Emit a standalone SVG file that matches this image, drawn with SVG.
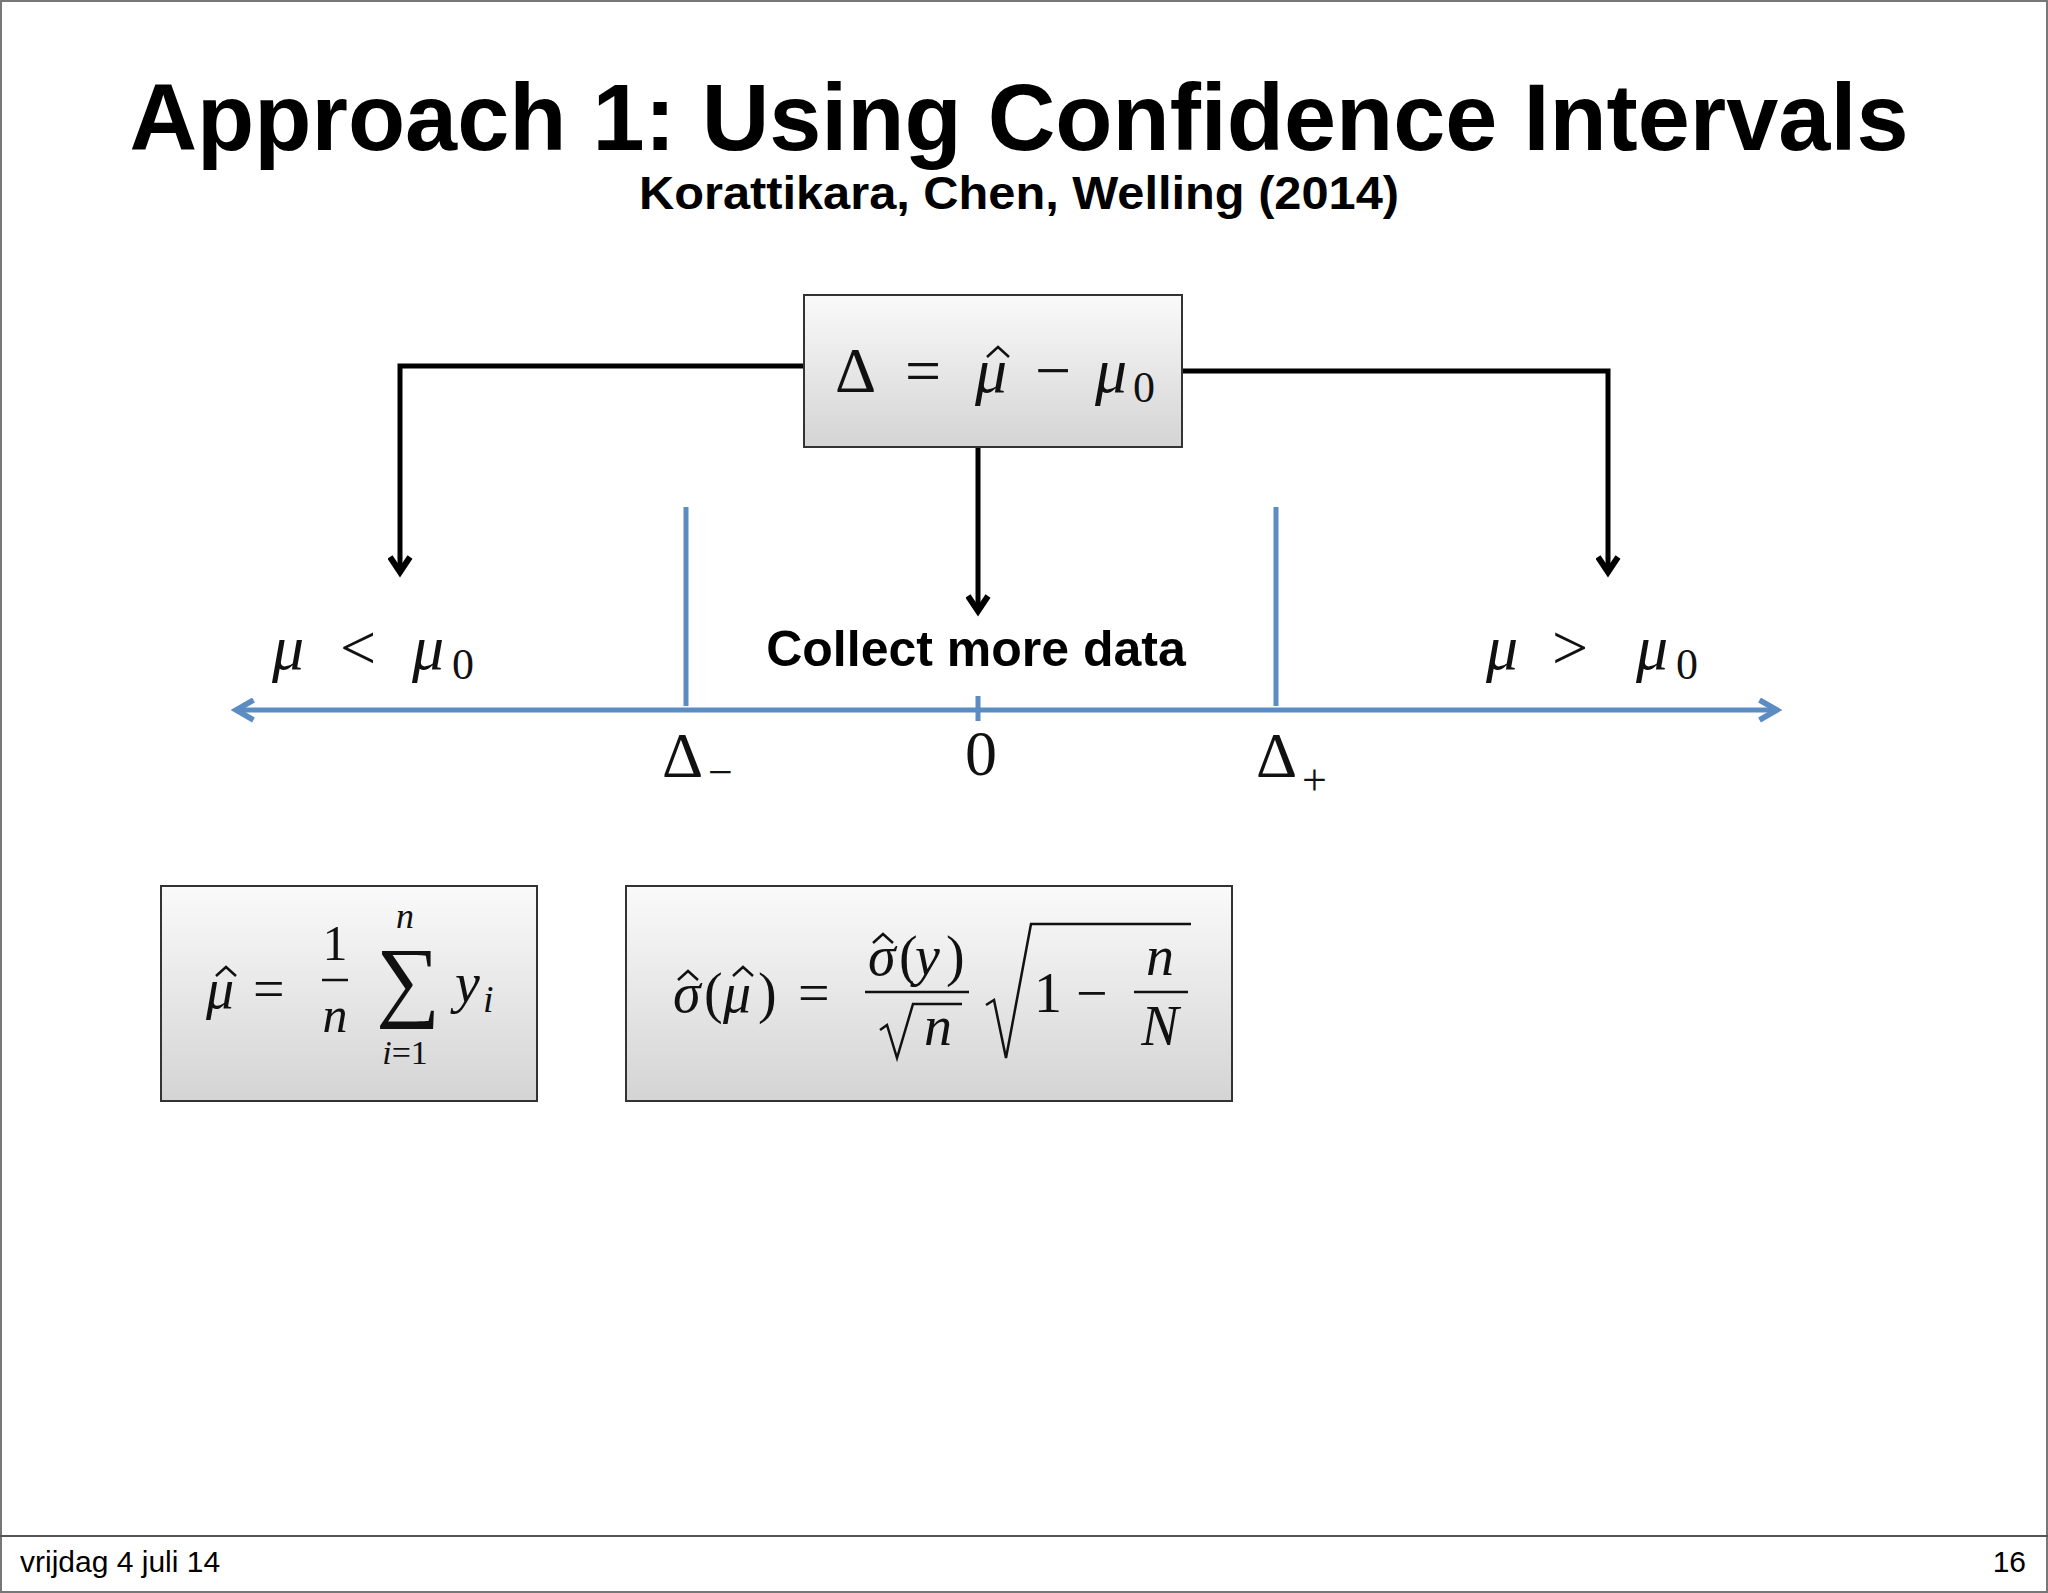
<svg xmlns="http://www.w3.org/2000/svg" width="2048" height="1593" viewBox="0 0 2048 1593">
<style>
.m{font-family:"Liberation Serif","DejaVu Serif",serif;font-style:italic;fill:#111}
.r{font-family:"Liberation Serif","DejaVu Serif",serif;fill:#111}
.s{font-family:"Liberation Sans","Open Sans",sans-serif;fill:#000}
.box{fill:url(#g);stroke:#333;stroke-width:2}
.conn{fill:none;stroke:#000;stroke-width:5}
.blue{stroke:#5b8cc2;stroke-width:5;fill:none}
.hat{fill:none;stroke:#111;stroke-width:2.5}
</style>
<defs>
<linearGradient id="g" x1="0" y1="0" x2="0" y2="1"><stop offset="0" stop-color="#fafafa"/><stop offset="1" stop-color="#d4d4d4"/></linearGradient>
<marker id="ah" viewBox="0 0 10 10" refX="7" refY="5" markerWidth="5" markerHeight="5" orient="auto"><path d="M1,1 L7,5 L1,9" fill="none" stroke="#000" stroke-width="2.4"/></marker>
<marker id="bh" viewBox="0 0 10 10" refX="8" refY="5" markerWidth="5" markerHeight="5" orient="auto-start-reverse"><path d="M1,1 L8,5 L1,9" fill="none" stroke="#5b8cc2" stroke-width="2.2"/></marker>
</defs>
<rect x="1" y="1" width="2046" height="1591" fill="#fff" stroke="#777" stroke-width="2"/>
<line x1="0" y1="1536" x2="2048" y2="1536" stroke="#555" stroke-width="2"/>
<text class="s" x="1019" y="150" font-size="94" font-weight="bold" text-anchor="middle" textLength="1779" lengthAdjust="spacingAndGlyphs">Approach 1: Using Confidence Intervals</text>
<text class="s" x="1019" y="209" font-size="46" font-weight="bold" text-anchor="middle" textLength="760" lengthAdjust="spacingAndGlyphs">Korattikara, Chen, Welling (2014)</text>
<g id="connectors">
<path class="conn" d="M804,366 H400 V572" marker-end="url(#ah)"/>
<path class="conn" d="M1182,371 H1608 V572" marker-end="url(#ah)"/>
<path class="conn" d="M978,447 V611" marker-end="url(#ah)"/>
</g>
<g id="axis">
<line class="blue" x1="236" y1="710" x2="1777" y2="710" marker-start="url(#bh)" marker-end="url(#bh)"/>
<line class="blue" x1="686" y1="507" x2="686" y2="706"/>
<line class="blue" x1="1276" y1="507" x2="1276" y2="706"/>
<line class="blue" x1="978" y1="696" x2="978" y2="721"/>
</g>
<g id="delta-box">
<rect class="box" x="804" y="295" width="378" height="152"/>
<text class="r" x="835" y="392" font-size="64">Δ</text>
<text class="r" x="905" y="392" font-size="64">=</text>
<text class="m" x="975" y="392" font-size="64">μ</text>
<path class="hat" d="M987,357 L998,347 L1009,357"/>
<text class="r" x="1035" y="392" font-size="64">−</text>
<text class="m" x="1095" y="392" font-size="64">μ</text>
<text class="r" x="1133" y="402" font-size="44">0</text>
</g>
<g id="lt"><text class="m" x="272" y="669" font-size="64">μ</text><text class="r" x="340" y="669" font-size="64">&lt;</text><text class="m" x="412" y="669" font-size="64">μ</text><text class="r" x="452" y="679" font-size="44">0</text></g>
<g id="gt"><text class="m" x="1486" y="669" font-size="64">μ</text><text class="r" x="1552" y="669" font-size="64">&gt;</text><text class="m" x="1636" y="669" font-size="64">μ</text><text class="r" x="1676" y="679" font-size="44">0</text></g>
<g id="collect"><text class="s" x="976" y="666" font-size="50" font-weight="bold" text-anchor="middle">Collect more data</text></g>
<g id="labels">
<text class="r" x="662" y="777" font-size="64">Δ</text><text class="r" x="708" y="787" font-size="44">−</text>
<text class="r" x="981" y="775" font-size="64" text-anchor="middle">0</text>
<text class="r" x="1256" y="777" font-size="64">Δ</text><text class="r" x="1302" y="795" font-size="44">+</text>
</g>
<g id="mean-box">
<rect class="box" x="161" y="886" width="376" height="215"/>
<text class="m" x="206" y="1008" font-size="56">μ</text>
<path class="hat" d="M216,976 L226,967 L236,976"/>
<text class="r" x="253" y="1008" font-size="56">=</text>
<text class="r" x="335" y="960" font-size="50" text-anchor="middle">1</text>
<line x1="322" y1="980" x2="348" y2="980" stroke="#111" stroke-width="2.5"/>
<text class="m" x="335" y="1032" font-size="50" text-anchor="middle">n</text>
<text class="r" x="408" y="1010" font-size="90" text-anchor="middle">∑</text>
<text class="m" x="405" y="928" font-size="36" text-anchor="middle">n</text>
<text class="m" x="405" y="1064" font-size="34" text-anchor="middle">i<tspan class="r" font-style="normal">=1</tspan></text>
<text class="m" x="455" y="1002" font-size="56">y</text><text class="m" x="483" y="1012" font-size="38">i</text>
</g>
<g id="sigma-box">
<rect class="box" x="626" y="886" width="606" height="215"/>
<text class="m" x="673" y="1012" font-size="56">σ</text>
<path class="hat" d="M678,980 L688,971 L698,980"/>
<text class="r" x="704" y="1012" font-size="56">(</text>
<text class="m" x="723" y="1012" font-size="56">μ</text>
<path class="hat" d="M733,976 L743,967 L753,976"/>
<text class="r" x="758" y="1012" font-size="56">)</text>
<text class="r" x="798" y="1012" font-size="56">=</text>
<text class="m" x="868" y="975" font-size="56">σ</text>
<path class="hat" d="M873,943 L883,934 L893,943"/>
<text class="r" x="899" y="975" font-size="56">(</text>
<text class="m" x="915" y="975" font-size="56">y</text>
<text class="r" x="946" y="975" font-size="56">)</text>
<line x1="865" y1="992" x2="969" y2="992" stroke="#111" stroke-width="2.5"/>
<path d="M880,1030 L887,1025 L897,1058 L913,1004 L962,1004" fill="none" stroke="#111" stroke-width="2.5"/>
<text class="m" x="938" y="1045" font-size="56" text-anchor="middle">n</text>
<path d="M986,1005 L994,1000 L1006,1058 L1031,924 L1191,924" fill="none" stroke="#111" stroke-width="2.5"/>
<text class="r" x="1034" y="1012" font-size="56">1</text>
<text class="r" x="1076" y="1012" font-size="56">−</text>
<text class="m" x="1160" y="975" font-size="56" text-anchor="middle">n</text>
<line x1="1134" y1="992" x2="1188" y2="992" stroke="#111" stroke-width="2.5"/>
<text class="m" x="1160" y="1045" font-size="56" text-anchor="middle">N</text>
</g>
<text class="s" x="20" y="1572" font-size="30">vrijdag 4 juli 14</text>
<text class="s" x="2026" y="1572" font-size="30" text-anchor="end">16</text>
</svg>
